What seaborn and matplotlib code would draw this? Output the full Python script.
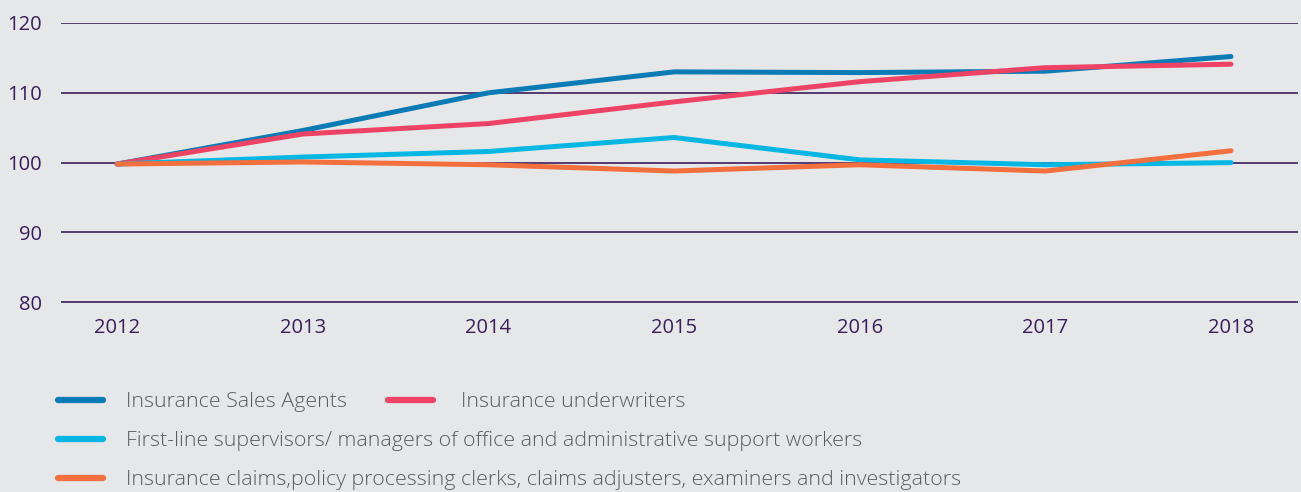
import pandas as pd
import seaborn as sns
import matplotlib.pyplot as plt


years = [2012, 2013, 2014, 2015, 2016, 2017, 2018]

sales_agents = [99.8, 104.6, 110.0, 113.0, 112.9, 113.1, 115.2]
underwriters = [99.8, 104.1, 105.6, 108.7, 111.6, 113.6, 114.1]
supervisors = [99.8, 100.8, 101.6, 103.6, 100.4, 99.7, 100.0]
claims_clerks = [99.8, 100.1, 99.7, 98.8, 99.7, 98.8, 101.7]

names = ['Insurance Sales Agents',
         'Insurance underwriters',
         'First-line supervisors/ managers of office and administrative support workers',
         'Insurance claims,policy processing clerks, claims adjusters, examiners and investigators']
colors = ['#0a7bb5', '#ef4366', '#06b7e4', '#f36f3e']

bg = '#e6e7e9'
dark = '#3a1d5c'

frames = []
for name, vals in zip(names, [sales_agents, underwriters, supervisors, claims_clerks]):
    frames.append(pd.DataFrame({'year': years, 'value': vals, 'series': name}))
data = pd.concat(frames)

sns.set_style('white')
plt.rcParams['font.family'] = ['Open Sans', 'DejaVu Sans']

fig = plt.figure(figsize=(13.01, 4.92), dpi=100, facecolor=bg)
ax = fig.add_axes([61 / 1301, 1 - 303 / 492, 1237 / 1301, 280 / 492])
ax.set_facecolor(bg)

sns.lineplot(data=data, x='year', y='value', hue='series', hue_order=names,
             palette=colors, linewidth=3.6, ax=ax, legend=True,
             solid_capstyle='round')

ax.set_ylim(79.9, 120)
ax.set_xlim(2011.698, 2018.361)
ax.set_yticks([80, 90, 100, 110, 120])
ax.set_xticks(years)
ax.grid(axis='y', color=dark, linewidth=1.2)
ax.set_axisbelow(True)
for s in ax.spines.values():
    s.set_visible(False)
ax.tick_params(axis='both', length=0, labelsize=14.5, labelcolor=dark)
ax.tick_params(axis='y', pad=14)
ax.tick_params(axis='x', pad=11)
ax.set_xlabel('')
ax.set_ylabel('')

handles, labels = ax.get_legend_handles_labels()
ax.get_legend().remove()

leg_kw = dict(frameon=False, labelcolor='#5c5c5c', handlelength=2.1,
              borderaxespad=0, borderpad=0,
              prop={'family': 'Open Sans', 'size': 15.4, 'weight': 'light'})
# (series index, left x in px, y in px, text pad)
rows = [(0, 58, 402, 1.1), (1, 388, 402, 1.3), (2, 58, 441, 1.1), (3, 58, 480, 1.1)]
for i, xpix, ypix, pad in rows:
    lg = fig.legend([handles[i]], [labels[i]], loc='center left',
                    bbox_to_anchor=(xpix / 1301, 1 - ypix / 492),
                    handletextpad=pad, **leg_kw)
    for h in lg.get_lines():
        h.set_linewidth(4.5)
        h.set_solid_capstyle('round')

fig.savefig('out.png', dpi=100, facecolor=bg)
